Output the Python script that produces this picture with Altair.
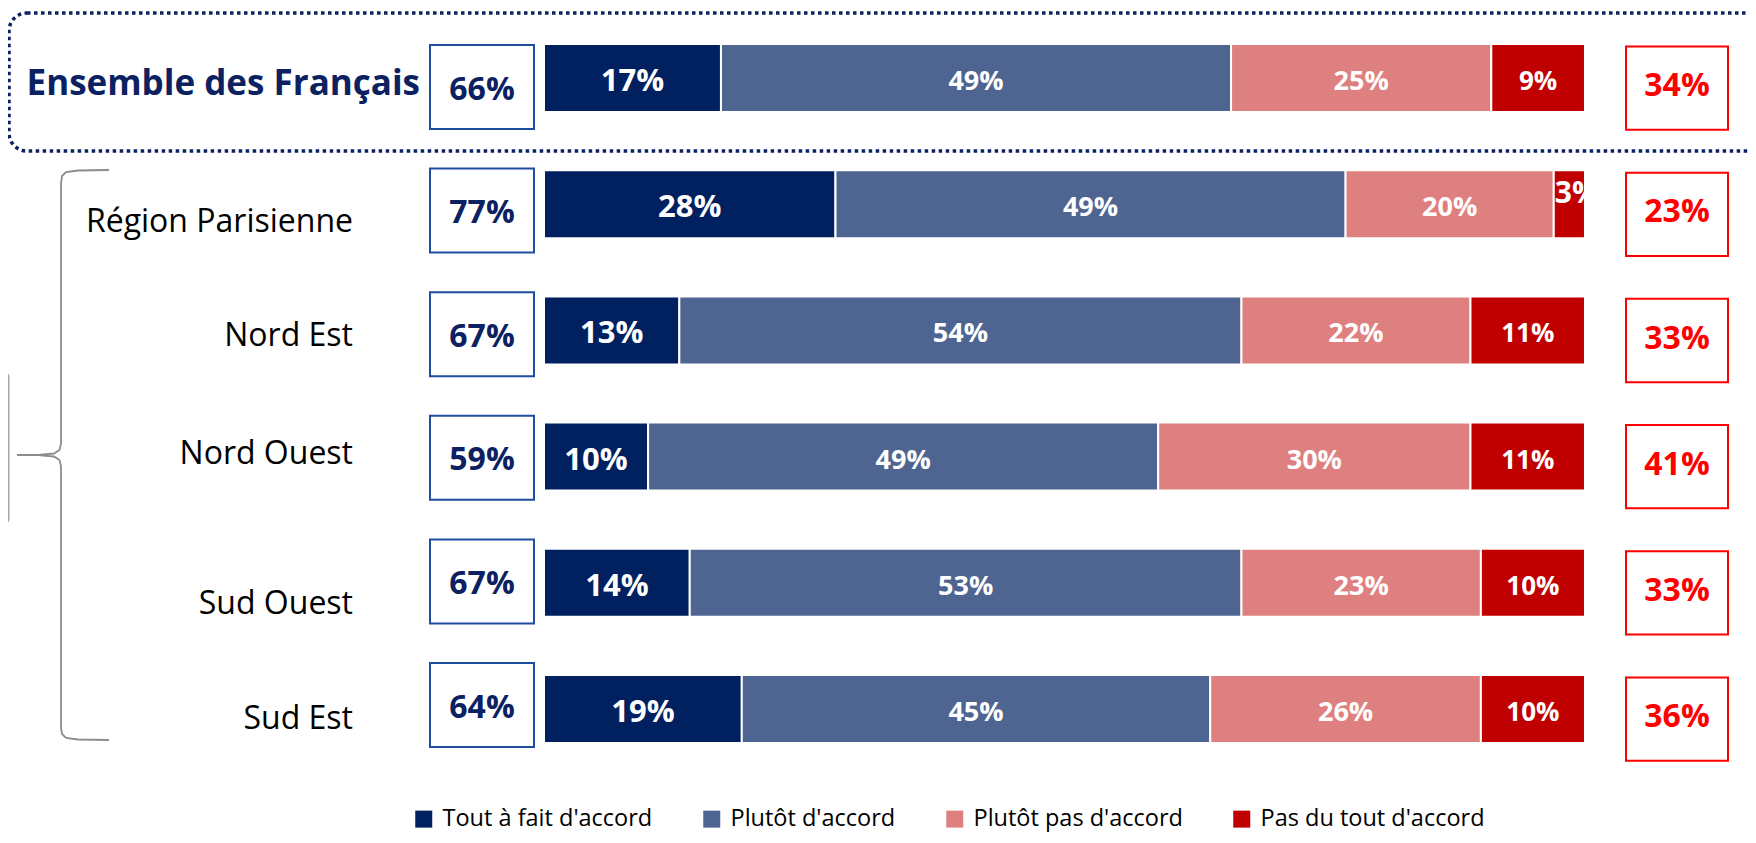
import altair as alt
import pandas as pd

# ---------------- data ----------------
regions = ["Ensemble des Français", "Région Parisienne", "Nord Est", "Nord Ouest", "Sud Ouest", "Sud Est"]
categories = ["Tout à fait d'accord", "Plutôt d'accord", "Plutôt pas d'accord", "Pas du tout d'accord"]
tout_a_fait = [17, 28, 13, 10, 14, 19]
plutot = [49, 49, 54, 49, 53, 45]
plutot_pas = [25, 20, 22, 30, 23, 26]
pas_du_tout = [9, 3, 11, 11, 10, 10]
total_accord = [66, 77, 67, 59, 67, 64]
total_pas = [34, 23, 33, 41, 33, 36]

# ---------------- style / layout ----------------
colors = ["#002060", "#4F6591", "#DF8080", "#C00000"]
NAVY = "#0B2161"
FONT = "Open Sans"
W, H = 1740, 827
ROW_PX = 126.2
label_dy_px = [6, 18, 6, -3, 21, 10]

series = [tout_a_fait, plutot, plutot_pas, pas_du_tout]
rows = []
for i, reg in enumerate(regions):
    for j, cat in enumerate(categories):
        rows.append({"region": reg, "row": i, "category": cat, "order": j, "value": series[j][i]})
long_df = pd.DataFrame(rows)

summary = pd.DataFrame({
    "region": regions,
    "row": list(range(len(regions))),
    "accord": [f"{v}%" for v in total_accord],
    "pas": [f"{v}%" for v in total_pas],
    "ldy": [d / ROW_PX for d in label_dy_px],
})

xscale = alt.Scale(domain=[-51.49, 115.66], range=[0, W], nice=False, zero=False)
yscale = alt.Scale(domain=[-70 / ROW_PX, (H - 70) / ROW_PX], range=[0, H], nice=False, zero=False)

one = pd.DataFrame({"k": [0]})

# dotted rounded frame around "Ensemble"
frame = alt.Chart(one).mark_rect(
    fillOpacity=0, stroke=NAVY, strokeWidth=3.5, strokeDash=[3.5, 3.5], cornerRadius=18
).encode(x=alt.value(1), x2=alt.value(1770), y=alt.value(5), y2=alt.value(143))

# gray box at far left (cut off)
graybox = alt.Chart(one).mark_rect(fill="#A6A6A6", cornerRadius=8).encode(
    x=alt.value(-30), x2=alt.value(1.5), y=alt.value(362), y2=alt.value(518)
)

# curly brace
brace_pts = [
    (101, 162), (70, 162.5), (58, 164), (54, 168), (53, 176),
    (53, 436), (51.5, 442), (46, 445.5), (30, 446.8), (9, 447),
    (30, 447.2), (46, 448.5), (51.5, 452), (53, 458),
    (53, 720), (54, 726), (58, 730), (70, 731.5), (101, 732),
]
brace_df = pd.DataFrame({"i": range(len(brace_pts)),
                         "px": [p[0] for p in brace_pts],
                         "py": [p[1] for p in brace_pts]})
brace = alt.Chart(brace_df).mark_line(color="#8C8C8C", strokeWidth=1.8).encode(
    x=alt.X("px:Q", scale=None), y=alt.Y("py:Q", scale=None), order="i:Q"
)

base = alt.Chart(long_df).transform_stack(
    stack="value", groupby=["region"], as_=["x0", "x1"], sort=[alt.SortField("order")]
).transform_calculate(
    y0="datum.row - 0.2694", y1="datum.row + 0.2694", mid="(datum.x0 + datum.x1) / 2",
    fs="datum.order == 0 ? 31 : (datum.order == 3 ? 26 : 27)",
    lbl="datum.value + '%'",
)

bars = base.mark_bar(stroke="white", strokeWidth=2).encode(
    x=alt.X("x0:Q", scale=xscale, axis=None),
    x2="x1:Q",
    y=alt.Y("y0:Q", scale=yscale, axis=None),
    y2="y1:Q",
    color=alt.Color(
        "category:N",
        scale=alt.Scale(domain=categories, range=colors),
        legend=alt.Legend(
            orient="none", legendX=404, legendY=799, direction="horizontal", title=None,
            symbolType="square", symbolSize=289, symbolStrokeWidth=0,
            labelFont=FONT, labelFontSize=23.5, labelColor="black", labelOffset=7,
            columnPadding=47, padding=0, labelLimit=400,
        ),
    ),
)

seg_labels = base.transform_filter("datum.value >= 5").mark_text(
    color="white", font=FONT, fontWeight="bold", baseline="middle", align="center", dy=4
).encode(
    x=alt.X("mid:Q", scale=xscale),
    y=alt.Y("row:Q", scale=yscale),
    text="lbl:N",
    size=alt.Size("fs:Q", scale=None),
)

small_labels = base.transform_filter("datum.value < 5").mark_text(
    color="white", font=FONT, fontWeight="bold", baseline="middle", align="left",
    fontSize=30, dx=1, dy=-10
).encode(
    x=alt.X("x0:Q", scale=xscale),
    y=alt.Y("row:Q", scale=yscale),
    text="lbl:N",
)

mask = base.transform_filter("datum.value < 5").mark_rect(fill="white").encode(
    x=alt.X("x1:Q", scale=xscale), x2=alt.value(1610),
    y=alt.Y("y0:Q", scale=yscale), y2="y1:Q",
)

sbase = alt.Chart(summary).transform_calculate(
    lb0="datum.row * 0.9794 - 0.2615",
    lb1="datum.row * 0.9794 - 0.2615 + 0.6656",
    ltc="datum.row * 0.9794 - 0.2615 + 0.3328 + 0.02",
    rb0="datum.row - 0.25", rb1="datum.row + 0.41", rtc="datum.row + 0.065",
    ly="datum.row + datum.ldy",
)

left_boxes = sbase.mark_rect(fill="white", stroke="#1F4E9E", strokeWidth=2).encode(
    x=alt.value(422), x2=alt.value(526),
    y=alt.Y("lb0:Q", scale=yscale), y2="lb1:Q",
)
left_text = sbase.mark_text(color=NAVY, font=FONT, fontWeight="bold", fontSize=32,
                            baseline="middle", align="center").encode(
    x=alt.value(474), y=alt.Y("ltc:Q", scale=yscale), text="accord:N"
)
right_boxes = sbase.mark_rect(fill="white", stroke="#FF0000", strokeWidth=2).encode(
    x=alt.value(1618), x2=alt.value(1720),
    y=alt.Y("rb0:Q", scale=yscale), y2="rb1:Q",
)
right_text = sbase.mark_text(color="#FF0000", font=FONT, fontWeight="bold", fontSize=32,
                             baseline="middle", align="center").encode(
    x=alt.value(1669), y=alt.Y("rtc:Q", scale=yscale), text="pas:N"
)

title_label = sbase.transform_filter("datum.row == 0").mark_text(
    color=NAVY, font=FONT, fontWeight="bold", fontSize=35, baseline="middle", align="right"
).encode(x=alt.value(412), y=alt.Y("ly:Q", scale=yscale), text="region:N")

region_labels = sbase.transform_filter("datum.row > 0").mark_text(
    color="black", font=FONT, fontSize=32, baseline="middle", align="right"
).encode(x=alt.value(345), y=alt.Y("ly:Q", scale=yscale), text="region:N")

chart = alt.layer(
    frame, graybox, brace, bars, seg_labels, small_labels, mask,
    left_boxes, left_text, right_boxes, right_text, title_label, region_labels,
).properties(
    width=W, height=H, autosize=alt.AutoSizeParams(type="none"), padding=0,
).configure_view(stroke=None)

chart.save("out.html", embed_options={"renderer": "svg", "actions": False})
